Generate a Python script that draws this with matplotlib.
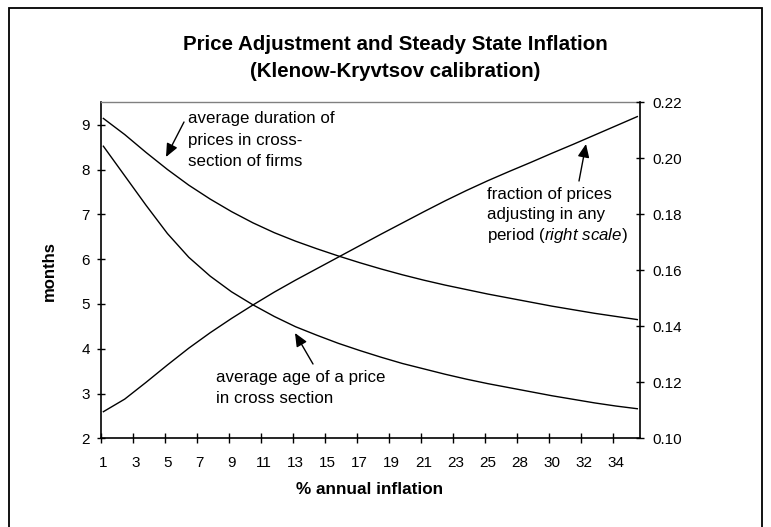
import matplotlib
matplotlib.use('Agg')
import matplotlib.pyplot as plt
from matplotlib.ticker import FixedLocator, FormatStrFormatter
from matplotlib.patches import Rectangle

plt.rcParams['font.family'] = ['Liberation Sans', 'DejaVu Sans']
plt.rcParams['mathtext.fontset'] = 'custom'
plt.rcParams['mathtext.it'] = 'Liberation Sans:italic'
plt.rcParams['mathtext.rm'] = 'Liberation Sans'

# ---- data (category index along the inflation axis, 101 categories) ----
cat_idx = [0, 4, 8, 12, 16, 20, 24, 28, 32, 36, 40, 44, 48, 52, 56, 60, 64,
           68, 72, 76, 80, 84, 88, 92, 96, 100]
duration = [9.14, 8.78, 8.38, 8.00, 7.65, 7.34, 7.06, 6.81, 6.59, 6.40, 6.23,
            6.07, 5.92, 5.78, 5.65, 5.53, 5.42, 5.32, 5.22, 5.13, 5.04, 4.95,
            4.87, 4.79, 4.72, 4.65]
age = [8.52, 7.86, 7.20, 6.57, 6.04, 5.62, 5.27, 4.98, 4.72, 4.49, 4.30, 4.12,
       3.96, 3.81, 3.67, 3.55, 3.43, 3.32, 3.22, 3.13, 3.04, 2.95, 2.87, 2.79,
       2.72, 2.66]
fraction = [0.1095, 0.1140, 0.1200, 0.1262, 0.1322, 0.1377, 0.1428, 0.1476,
            0.1522, 0.1565, 0.1606, 0.1647, 0.1688, 0.1729, 0.1769, 0.1809,
            0.1848, 0.1885, 0.1920, 0.1953, 0.1985, 0.2018, 0.2050, 0.2083,
            0.2116, 0.2149]
label_idx = [0, 6, 12, 18, 24, 30, 36, 42, 48, 54, 60, 66, 72, 78, 84, 90, 96]
xtick_labels = ["1", "3", "5", "7", "9", "11", "13", "15", "17", "19", "21",
                "23", "25", "28", "30", "32", "34"]
left_ticks = [2, 3, 4, 5, 6, 7, 8, 9]
right_ticks = [0.10, 0.12, 0.14, 0.16, 0.18, 0.20, 0.22]

W, H = 771, 527
fig = plt.figure(figsize=(W / 100, H / 100), dpi=100)


def fx(px):
    return px / W


def fy(py):
    return 1 - py / H


L, R, T, B = 100.7, 640.0, 102.3, 438.3
ax = fig.add_axes([fx(L), fy(B), (R - L) / W, (B - T) / H])
ax2 = ax.twinx()

ax.plot(cat_idx, duration, color='black', lw=1.0)
ax.plot(cat_idx, age, color='black', lw=1.0)
ax2.plot(cat_idx, fraction, color='black', lw=1.0)

ax.set_xlim(-0.5, 100.5)
ax.set_ylim(2, 9.5)
ax2.set_ylim(0.10, 0.22)
ax.set_yticks(left_ticks)
ax2.set_yticks(right_ticks)
ax2.yaxis.set_major_formatter(FormatStrFormatter('%.2f'))
ax.set_xticks(label_idx)
ax.set_xticklabels(xtick_labels)
ax.xaxis.set_minor_locator(FixedLocator([i - 0.5 for i in label_idx]))
ax.tick_params(axis='x', which='major', length=0, pad=12.5, labelsize=11)
ax.tick_params(axis='x', which='minor', direction='inout', length=7.2, width=1.0)
ax.tick_params(axis='y', direction='inout', length=5.8, width=1.0, pad=5.0,
               labelsize=11)
ax2.tick_params(axis='y', direction='inout', length=5.8, width=1.0, pad=6.0,
                labelsize=11)

for a in (ax, ax2):
    for s in a.spines.values():
        s.set_linewidth(1.2)
        s.set_color('black')
ax.spines['top'].set_color('#808080')
ax.spines['top'].set_linewidth(1.0)
ax.spines['right'].set_visible(False)
ax2.spines['top'].set_visible(False)
ax2.spines['left'].set_visible(False)
ax2.spines['bottom'].set_visible(False)

# outer chart border
fig.patches.append(Rectangle((fx(8.5), -0.05), fx(762) - fx(8.5), fy(7.5) + 0.05,
                             transform=fig.transFigure, fill=False,
                             lw=1.3, ec='black'))

# titles and axis labels
fig.text(fx(395), fy(44.5), "Price Adjustment and Steady State Inflation",
         ha='center', va='center', fontsize=14.8, fontweight='bold')
fig.text(fx(395), fy(71.5), "(Klenow-Kryvtsov calibration)",
         ha='center', va='center', fontsize=14.8, fontweight='bold')
fig.text(fx(370), fy(490), "% annual inflation", ha='center', va='center',
         fontsize=12.3, fontweight='bold')
fig.text(fx(49), fy(271), "months", ha='center', va='center', rotation=90,
         fontsize=12, fontweight='bold')

# annotations
fs = 12.2
for i, s in enumerate(["average duration of", "prices in cross-", "section of firms"]):
    fig.text(fx(188.3), fy(119 + 21.3 * i), s, ha='left', va='center', fontsize=fs)
for i, s in enumerate(["fraction of prices", "adjusting in any",
                       r"period ($\mathit{right\ scale}$)"]):
    fig.text(fx(486.7), fy(194 + 20.8 * i), s, ha='left', va='center', fontsize=fs)
for i, s in enumerate(["average age of a price", "in cross section"]):
    fig.text(fx(216.5), fy(377.7 + 20.8 * i), s, ha='left', va='center', fontsize=fs)

arrow = dict(arrowstyle='-|>,head_length=0.8,head_width=0.35', mutation_scale=10,
             lw=1.0, color='black', shrinkA=0, shrinkB=0)
for tail, head in [((184, 122), (166, 157)),
                   ((579, 181), (586, 144)),
                   ((313, 364), (295, 333))]:
    ax.annotate('', xy=(head[0], H - head[1]), xytext=(tail[0], H - tail[1]),
                xycoords='figure pixels', textcoords='figure pixels',
                arrowprops=arrow)

fig.savefig('out.png', dpi=100)
